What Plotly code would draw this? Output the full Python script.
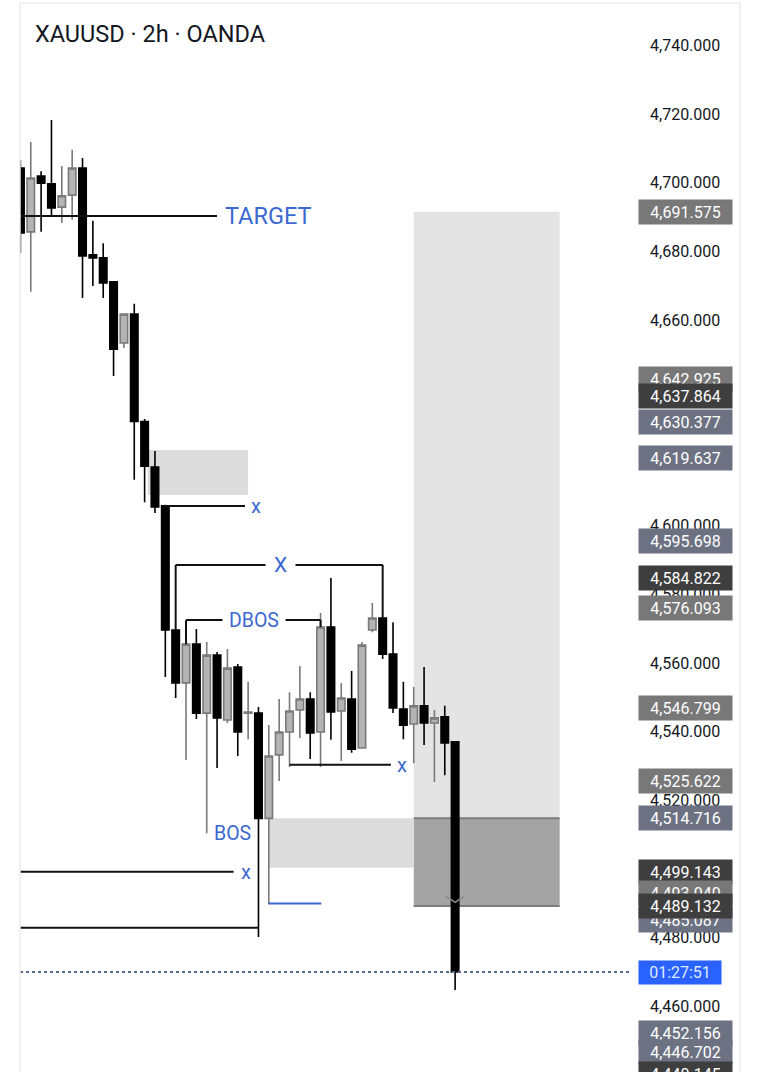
import plotly.graph_objects as go

# ---------------- data ----------------
opens = [4704.3, 4685.7, 4702.0, 4699.7, 4692.9, 4696.4, 4704.3, 4679.0, 4678.1, 4671.1,
         4653.3, 4661.7, 4630.4, 4617.1, 4605.8, 4569.6, 4554.2, 4565.5, 4545.4, 4562.3,
         4543.4, 4558.8, 4545.4, 4545.4, 4514.7, 4533.2, 4539.9, 4546.3, 4549.5, 4539.9,
         4570.5, 4546.0, 4549.5, 4535.2, 4569.6, 4573.1, 4562.6, 4546.6, 4542.2, 4547.5,
         4542.5, 4544.3, 4537.0]
highs = [4706.6, 4711.9, 4703.4, 4718.3, 4704.9, 4709.6, 4707.2, 4688.9, 4682.4, 4671.1,
         4661.7, 4664.7, 4631.1, 4621.8, 4606.1, 4569.6, 4566.7, 4569.9, 4566.1, 4563.2,
         4564.1, 4559.7, 4554.5, 4547.2, 4541.9, 4549.5, 4551.5, 4559.1, 4551.5, 4574.6,
         4584.8, 4554.2, 4557.7, 4566.1, 4577.5, 4573.1, 4571.9, 4554.5, 4553.0, 4558.8,
         4546.3, 4547.5, 4537.0]
lows = [4679.5, 4668.2, 4685.7, 4690.3, 4688.3, 4689.2, 4666.4, 4669.9, 4666.4, 4643.7,
        4651.8, 4613.4, 4606.9, 4603.7, 4555.9, 4549.8, 4531.7, 4543.7, 4510.4, 4529.4,
        4542.5, 4532.9, 4537.8, 4480.1, 4489.7, 4525.6, 4529.7, 4538.1, 4532.0, 4529.7,
        4537.6, 4531.4, 4533.8, 4535.0, 4569.0, 4561.2, 4545.4, 4537.8, 4530.8, 4536.1,
        4525.3, 4527.3, 4464.7]
closes = [4685.4, 4701.4, 4699.9, 4692.7, 4696.2, 4704.3, 4678.7, 4678.1, 4670.8, 4651.5,
          4661.7, 4630.4, 4617.4, 4605.5, 4569.6, 4554.2, 4565.5, 4545.4, 4562.3, 4544.0,
          4558.5, 4539.9, 4545.7, 4514.7, 4532.9, 4539.9, 4546.0, 4549.5, 4539.6, 4570.5,
          4545.7, 4549.8, 4534.9, 4565.2, 4573.1, 4562.6, 4546.9, 4541.9, 4547.5, 4542.5,
          4544.0, 4536.7, 4469.9]
bar_index = list(range(len(opens)))

tick_values = list(range(4440, 4741, 20))
tick_labels = [f"{v:,.3f}" for v in tick_values]

# price-scale labels: value, colour group
scale_label_values = [4691.575, 4642.925, 4630.377, 4637.864, 4619.637, 4595.698, 4576.093,
                      4584.822, 4546.799, 4525.622, 4514.716, 4499.143, 4493.040, 4485.087,
                      4489.132, 4452.156, 4446.702, 4440.145]
scale_label_kinds = ["gray", "gray", "slate", "dark", "slate", "slate", "gray",
                     "dark", "gray", "gray", "slate", "dark", "gray", "slate",
                     "dark", "slate", "slate", "dark"]

# drawing-tool levels
target_level = 4690.3
entry_level = 4514.716
stop_level = 4489.132
take_profit_level = 4691.575
ob_zone = (4609.0, 4622.1)
fvg_zone = (4500.3, 4514.716)
x1_level = 4605.8
big_x_level = 4588.6
dbos_level = 4572.5
x2_level = 4530.3
x3_level = 4499.143
bottom_level = 4482.8
blue_level = 4489.9
last_price = closes[-1]
countdown_text = "01:27:51"

# ---------------- styling ----------------
FONT = "Roboto"
BLUE = "#3b69d1"
LABEL_BG = {"gray": "#787878", "dark": "#3e3e3e", "slate": "#6d7283"}
X0, X1 = -0.04, 59.09        # x range (bar index)
Y0, Y1 = 4440.76, 4753.29    # y range


def to_paper_y(v):
    return (v - Y0) / (Y1 - Y0)


fig = go.Figure()
fig.add_trace(go.Candlestick(
    x=bar_index, open=opens, high=highs, low=lows, close=closes,
    increasing=dict(line=dict(color="#7a7a7a", width=1.6), fillcolor="#b4b4b4"),
    decreasing=dict(line=dict(color="#000000", width=1.6), fillcolor="#000000"),
    whiskerwidth=0, hoverinfo="skip", showlegend=False))

# small chevron in the stop zone
fig.add_trace(go.Scatter(x=[41.1, 42.0, 42.9], y=[4492.0, 4490.2, 4492.0], mode="lines",
                         line=dict(color="#8c8c8c", width=1.5), hoverinfo="skip",
                         showlegend=False))

shapes = []


def rect(x0, x1, y0, y1, color):
    shapes.append(dict(type="rect", xref="x", yref="y", x0=x0, x1=x1, y0=y0, y1=y1,
                       fillcolor=color, line=dict(width=0), layer="below"))


def seg(x0, y0, x1, y1, color="#111111", width=2, layer="above", dash="solid"):
    shapes.append(dict(type="line", xref="x", yref="y", x0=x0, y0=y0, x1=x1, y1=y1,
                       line=dict(color=color, width=width, dash=dash), layer=layer))


rect(38.0, 52.1, entry_level, take_profit_level, "#e4e4e4")
rect(38.0, 52.1, stop_level, entry_level, "#a4a4a4")
rect(12.3, 22.0, ob_zone[0], ob_zone[1], "#dcdcdc")
rect(24.0, 38.0, fvg_zone[0], fvg_zone[1], "#dcdcdc")
seg(38.0, entry_level, 52.1, entry_level, "#7c7c7c", 2, "below")
seg(38.0, stop_level, 52.1, stop_level, "#7c7c7c", 2, "below")

seg(X0, target_level, 19.0, target_level)
seg(13.8, x1_level, 21.7, x1_level)
seg(15, 4569.6, 15, big_x_level)
seg(15, big_x_level, 35, big_x_level)
seg(35, big_x_level, 35, 4573.1)
seg(16, 4565.5, 16, dbos_level)
seg(16, dbos_level, 29, dbos_level)
seg(29, dbos_level, 29, 4570.5)
seg(26, x2_level, 35.8, x2_level)
seg(X0, x3_level, 20.6, x3_level)
seg(X0, bottom_level, 23, bottom_level)
seg(24, blue_level, 29.07, blue_level, BLUE, 2)

# last price dotted line
shapes.append(dict(type="line", xref="paper", yref="y", x0=0, x1=1, y0=last_price,
                   y1=last_price, line=dict(color="#5a6a8e", width=2, dash="dot")))
# panel borders
shapes.append(dict(type="line", xref="paper", yref="paper", x0=0, x1=0, y0=0, y1=0.9972,
                   line=dict(color="#ececec", width=1.5)))
shapes.append(dict(type="line", xref="paper", yref="paper", x0=0, x1=1.1765, y0=0.9972,
                   y1=0.9972, line=dict(color="#ececec", width=1.5)))
shapes.append(dict(type="line", xref="paper", yref="paper", x0=1.1765, x1=1.1765, y0=0,
                   y1=0.9972, line=dict(color="#ececec", width=1.5)))

annotations = []


def label(text, x, y, size, xanchor="center", bg=None, pad=1):
    annotations.append(dict(text=text, x=x, y=y, xref="x", yref="y", showarrow=False,
                            xanchor=xanchor, yanchor="middle",
                            font=dict(family=FONT, size=size, color=BLUE),
                            bgcolor=bg, borderpad=pad))


label("TARGET", 19.6, target_level, 23.5, xanchor="left")
label("x", 22.8, x1_level, 20)
label("X", 25.1, big_x_level, 21, bg="white", pad=8)
label("DBOS", 22.6, dbos_level, 19.5, bg="white", pad=6)
label("x", 36.9, x2_level, 20)
label("BOS", 20.5, 4510.4, 19.5)
label("x", 21.8, x3_level, 20)

# title
annotations.append(dict(text="XAUUSD · 2h · OANDA", xref="paper", yref="paper",
                        x=0.0215, y=0.968, xanchor="left", yanchor="middle",
                        showarrow=False, font=dict(family=FONT, size=23.5, color="#131722")))

# price-scale labels
for v, kind in zip(scale_label_values, scale_label_kinds):
    annotations.append(dict(text=f"{v:,.3f}", xref="paper", yref="paper", x=1.0098,
                            y=to_paper_y(v), xanchor="left", yanchor="middle",
                            showarrow=False, width=89, height=20, borderpad=2,
                            align="center", bgcolor=LABEL_BG[kind],
                            font=dict(family=FONT, size=16, color="#ffffff")))
annotations.append(dict(text=countdown_text, xref="paper", yref="paper", x=1.0098,
                        y=to_paper_y(last_price), xanchor="left", yanchor="middle",
                        showarrow=False, width=78, height=19, borderpad=2, align="center",
                        bgcolor="#2962ff", font=dict(family=FONT, size=16, color="#dfe7ff")))

fig.update_layout(
    width=760, height=1072,
    margin=dict(l=20, r=128, t=0, b=0),
    paper_bgcolor="white", plot_bgcolor="white",
    shapes=shapes, annotations=annotations,
    showlegend=False,
    boxgap=0.1, boxgroupgap=0.2,
    xaxis=dict(range=[X0, X1], showticklabels=False, showgrid=False, zeroline=False,
               showline=False, ticks="", rangeslider=dict(visible=False), fixedrange=True),
    yaxis=dict(range=[Y0, Y1], side="right", showgrid=False, zeroline=False, showline=False,
               ticks="", tickvals=tick_values, ticktext=tick_labels, ticklabelstandoff=17,
               tickfont=dict(family=FONT, size=16, color="#131722"), fixedrange=True),
)

fig.write_html("out.html", config={"displayModeBar": False},
               post_script="document.body.style.margin='0';")
